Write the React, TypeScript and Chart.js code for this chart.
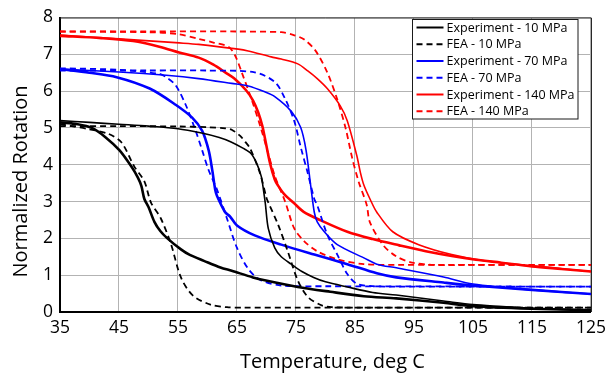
import { useEffect, useRef } from 'react';
import { Chart, registerables } from 'chart.js';

Chart.register(...registerables);

// Tick values
const xTickValues = [35, 45, 55, 65, 75, 85, 95, 105, 115, 125];
const yTickValues = [0, 1, 2, 3, 4, 5, 6, 7, 8];

// Axis titles
const xTitle = 'Temperature, deg C';
const yTitle = 'Normalized Rotation';

// Experiment - 10 MPa (heating branch, thin)
const exp10HeatT = [35, 40, 45, 50, 55, 59, 62, 64, 66, 67.4, 68.3, 69.1, 69.5, 69.8, 70.3, 71.4, 72.5, 74.2, 76, 78, 80, 83.7, 88, 92, 100, 105, 110, 115, 120, 125];
const exp10HeatV = [5.2, 5.15, 5.1, 5.05, 4.98, 4.86, 4.74, 4.62, 4.45, 4.3, 4.05, 3.69, 3.3, 2.95, 2.27, 1.74, 1.5, 1.3, 1.1, 0.94, 0.82, 0.68, 0.53, 0.46, 0.3, 0.2, 0.15, 0.1, 0.07, 0.05];
// Experiment - 10 MPa (cooling branch, thick)
const exp10CoolT = [35, 38, 40.4, 42.7, 45.1, 47.1, 48.2, 48.8, 49.3, 50, 51, 52, 53.2, 55.5, 57, 59.4, 62.2, 64.1, 67.7, 69.7, 75.3, 80.8, 86.5, 92, 100, 105, 115, 125];
const exp10CoolV = [5.15, 5.1, 5.0, 4.75, 4.39, 3.95, 3.65, 3.42, 3.07, 2.85, 2.45, 2.2, 2.0, 1.7, 1.55, 1.39, 1.21, 1.12, 0.94, 0.86, 0.68, 0.55, 0.43, 0.37, 0.25, 0.16, 0.09, 0.05];

// FEA - 10 MPa
const fea10HeatT = [35, 45, 55, 60, 63, 64.1, 65.5, 66.4, 67.2, 68.9, 70, 70.3, 72, 73.6, 75.3, 77, 79.2, 81, 90, 100, 125];
const fea10HeatV = [5.05, 5.05, 5.04, 5.02, 4.99, 4.95, 4.79, 4.62, 4.45, 3.77, 3.1, 2.98, 2.36, 1.65, 0.86, 0.41, 0.19, 0.13, 0.12, 0.12, 0.12];
const fea10CoolT = [35, 37, 39.8, 43.2, 45.4, 47.6, 49.3, 50.4, 52.1, 53.8, 55.5, 57.5, 60.5, 63.3, 66, 75, 125];
const fea10CoolV = [5.1, 5.05, 4.97, 4.84, 4.61, 3.95, 3.55, 2.98, 2.54, 1.85, 0.94, 0.45, 0.2, 0.13, 0.12, 0.12, 0.12];

// Experiment - 70 MPa
const exp70HeatT = [35, 45, 53, 58.5, 64.1, 66.9, 69.7, 71.4, 74.2, 75.8, 76.7, 77.5, 78.1, 78.6, 79.8, 82, 86.5, 88.7, 92, 100, 105, 115, 125];
const exp70HeatV = [6.6, 6.52, 6.43, 6.34, 6.21, 6.14, 5.98, 5.85, 5.45, 5.01, 4.4, 3.42, 2.71, 2.45, 2.18, 1.83, 1.47, 1.3, 1.2, 0.95, 0.76, 0.6, 0.49];
const exp70CoolT = [35, 40, 44.6, 50.2, 54.6, 57.4, 59.1, 60.2, 60.8, 61.3, 61.6, 63, 63.8, 65, 68, 72.5, 78.1, 83.7, 88.7, 92, 100, 105, 115, 125];
const exp70CoolV = [6.6, 6.5, 6.38, 6.07, 5.63, 5.28, 4.92, 4.39, 3.86, 3.33, 3.16, 2.71, 2.6, 2.35, 2.08, 1.83, 1.56, 1.3, 1.05, 0.94, 0.8, 0.72, 0.6, 0.49];

// FEA - 70 MPa
const fea70HeatT = [35, 50, 60, 68, 71.4, 73.1, 74.7, 75.8, 77, 78.1, 78.6, 80.3, 82, 83.7, 85.3, 88.1, 95, 125];
const fea70HeatV = [6.56, 6.56, 6.56, 6.51, 6.25, 5.81, 5.19, 4.48, 3.77, 3.07, 2.9, 2.1, 1.56, 1.03, 0.77, 0.7, 0.69, 0.69];
const fea70CoolT = [35, 45, 51.8, 53, 54.6, 56.3, 58, 59.1, 60.2, 61.6, 63.3, 65, 67, 69.1, 72.5, 80, 125];
const fea70CoolV = [6.62, 6.58, 6.47, 6.38, 6.16, 5.63, 4.92, 4.39, 3.85, 3.33, 2.54, 1.74, 1.15, 0.86, 0.72, 0.7, 0.69];

// Experiment - 140 MPa
const exp140HeatT = [35, 45, 55.2, 58.5, 65.2, 66.9, 70.8, 72.5, 75.3, 77, 78.6, 80.3, 82.5, 83.7, 85.3, 85.9, 86.5, 87.6, 88.7, 91.4, 95.8, 101.4, 107, 115.4, 125];
const exp140HeatV = [7.52, 7.42, 7.31, 7.27, 7.14, 7.09, 6.93, 6.87, 6.74, 6.55, 6.34, 6.07, 5.6, 5.19, 4.25, 3.8, 3.45, 3.05, 2.71, 2.18, 1.83, 1.56, 1.39, 1.25, 1.1];
const exp140CoolT = [35, 42, 47.4, 52, 55.2, 58.5, 61, 63, 64.5, 66.5, 67.7, 68.6, 69.3, 69.7, 70.6, 71.4, 71.9, 73, 74.7, 76.3, 79.2, 83.7, 88, 92.5, 97, 101.4, 105.5, 109.8, 115, 120, 125];
const exp140CoolV = [7.5, 7.44, 7.36, 7.2, 7.05, 6.91, 6.72, 6.51, 6.35, 6.03, 5.75, 5.42, 5.05, 4.75, 4.04, 3.6, 3.45, 3.2, 2.95, 2.72, 2.49, 2.18, 1.98, 1.81, 1.65, 1.52, 1.42, 1.34, 1.24, 1.17, 1.1];

// FEA - 140 MPa
const fea140HeatT = [35, 50, 65, 72.5, 74.5, 76.4, 78.3, 80.3, 82, 83.4, 84.5, 85.6, 87, 87.5, 89.7, 91.9, 94.7, 98.6, 105, 125];
const fea140HeatV = [7.62, 7.62, 7.62, 7.6, 7.53, 7.4, 7.1, 6.51, 5.77, 5.0, 4.2, 3.55, 2.9, 2.45, 1.83, 1.52, 1.34, 1.28, 1.28, 1.28];
const fea140CoolT = [35, 50, 55, 58.5, 61, 63.6, 64.7, 65.8, 67.5, 69.1, 70.3, 71.4, 73.2, 74.7, 76.4, 78.6, 82, 86.5, 92, 125];
const fea140CoolV = [7.62, 7.6, 7.55, 7.42, 7.32, 7.2, 6.96, 6.51, 5.76, 4.97, 4.3, 3.7, 2.98, 2.27, 1.92, 1.65, 1.43, 1.3, 1.28, 1.28];

const legendLabels = ['Experiment - 10 MPa', 'FEA - 10 MPa', 'Experiment - 70 MPa', 'FEA - 70 MPa', 'Experiment - 140 MPa', 'FEA - 140 MPa'];
const seriesColors = ['#000000', '#000000', '#0000ff', '#0000ff', '#ff0000', '#ff0000'];
const seriesDashed = [false, true, false, true, false, true];

const FONT = '"Open Sans", "Noto Sans", sans-serif';
const DASH = [6, 4];

function pts(t: number[], v: number[]) {
  return t.map((x, i) => ({ x, y: v[i] }));
}

function ds(label: string, t: number[], v: number[], color: string, width: number, dashed: boolean) {
  return {
    label,
    data: pts(t, v),
    borderColor: color,
    backgroundColor: color,
    borderWidth: width,
    borderDash: dashed ? DASH : [],
    pointRadius: 0,
    fill: false,
    tension: 0.3,
  };
}

const framePlugin = {
  id: 'frameAndLegend',
  afterDraw(chart: any) {
    const { ctx, chartArea } = chart;
    const { left, right, top, bottom } = chartArea;
    ctx.save();
    // top and right border
    ctx.strokeStyle = '#262626';
    ctx.lineWidth = 1;
    ctx.setLineDash([]);
    ctx.beginPath();
    ctx.moveTo(left, top + 0.5);
    ctx.lineTo(right + 0.5, top + 0.5);
    ctx.lineTo(right + 0.5, bottom);
    ctx.stroke();

    // axis titles
    ctx.fillStyle = '#000000';
    ctx.font = '20px ' + FONT;
    ctx.textAlign = 'center';
    ctx.textBaseline = 'alphabetic';
    ctx.fillText(xTitle, 332.5, 367.5);
    ctx.save();
    ctx.translate(26.5, 181.5);
    ctx.rotate(-Math.PI / 2);
    ctx.fillText(yTitle, 0, 0);
    ctx.restore();

    // legend box
    const bx = 412.5, by = 19.5, bw = 165.5, bh = 99.5;
    ctx.fillStyle = '#ffffff';
    ctx.fillRect(bx, by, bw, bh);
    ctx.strokeStyle = '#1a1a1a';
    ctx.lineWidth = 1;
    ctx.strokeRect(bx, by, bw, bh);
    ctx.font = '12.5px ' + FONT;
    ctx.textBaseline = 'middle';
    ctx.textAlign = 'left';
    const rowH = 16.75;
    for (let i = 0; i < legendLabels.length; i++) {
      const cy = by + 8 + rowH * i;
      ctx.strokeStyle = seriesColors[i];
      ctx.lineWidth = 2;
      ctx.setLineDash(seriesDashed[i] ? DASH : []);
      ctx.beginPath();
      ctx.moveTo(bx + 4, cy);
      ctx.lineTo(bx + 31, cy);
      ctx.stroke();
      ctx.setLineDash([]);
      ctx.fillStyle = '#000000';
      ctx.fillText(legendLabels[i], bx + 34, cy + 0.5);
    }
    ctx.restore();
  },
};

export default function App() {
  const ref = useRef<HTMLCanvasElement | null>(null);
  useEffect(() => {
    document.body.style.margin = '0';
    const canvas = ref.current;
    if (!canvas) return;
    const datasets = [
      ds(legendLabels[0], exp10CoolT, exp10CoolV, seriesColors[0], 2.6, false),
      ds(legendLabels[0], exp10HeatT, exp10HeatV, seriesColors[0], 1.6, false),
      ds(legendLabels[1], fea10HeatT, fea10HeatV, seriesColors[1], 1.8, true),
      ds(legendLabels[1], fea10CoolT, fea10CoolV, seriesColors[1], 1.8, true),
      ds(legendLabels[2], exp70CoolT, exp70CoolV, seriesColors[2], 2.6, false),
      ds(legendLabels[2], exp70HeatT, exp70HeatV, seriesColors[2], 1.6, false),
      ds(legendLabels[3], fea70HeatT, fea70HeatV, seriesColors[3], 1.8, true),
      ds(legendLabels[3], fea70CoolT, fea70CoolV, seriesColors[3], 1.8, true),
      ds(legendLabels[4], exp140CoolT, exp140CoolV, seriesColors[4], 2.6, false),
      ds(legendLabels[4], exp140HeatT, exp140HeatV, seriesColors[4], 1.6, false),
      ds(legendLabels[5], fea140HeatT, fea140HeatV, seriesColors[5], 1.8, true),
      ds(legendLabels[5], fea140CoolT, fea140CoolV, seriesColors[5], 1.8, true),
    ];
    const chart = new Chart(canvas, {
      type: 'line',
      data: { datasets },
      options: {
        animation: false,
        responsive: false,
        layout: { padding: { left: 0, top: 11, right: 15, bottom: 0 } },
        plugins: { legend: { display: false }, tooltip: { enabled: false } },
        scales: {
          x: {
            type: 'linear',
            min: 35,
            max: 125,
            afterBuildTicks: (s: any) => { s.ticks = xTickValues.map((value) => ({ value })); },
            afterFit: (s: any) => { s.height = 65; },
            grid: { color: '#b3b3b3', lineWidth: 1, drawTicks: false },
            border: { color: '#000000', width: 2 },
            ticks: { color: '#000000', font: { family: FONT, size: 17.5 }, padding: 6, maxRotation: 0, autoSkip: false },
            title: { display: false },
          },
          y: {
            type: 'linear',
            min: 0,
            max: 8,
            afterBuildTicks: (s: any) => { s.ticks = yTickValues.map((value) => ({ value })); },
            afterFit: (s: any) => { s.width = 60; },
            grid: { color: '#b3b3b3', lineWidth: 1, drawTicks: false },
            border: { color: '#000000', width: 2 },
            ticks: { color: '#000000', font: { family: FONT, size: 17.5 }, padding: 7, autoSkip: false },
            title: { display: false },
          },
        },
      },
      plugins: [framePlugin],
    } as any);
    return () => chart.destroy();
  }, []);
  return (
    <div style={{ position: 'absolute', left: 0, top: 0, width: 612, height: 377 }}>
      <canvas ref={ref} width={612} height={377} style={{ display: 'block' }} />
    </div>
  );
}
